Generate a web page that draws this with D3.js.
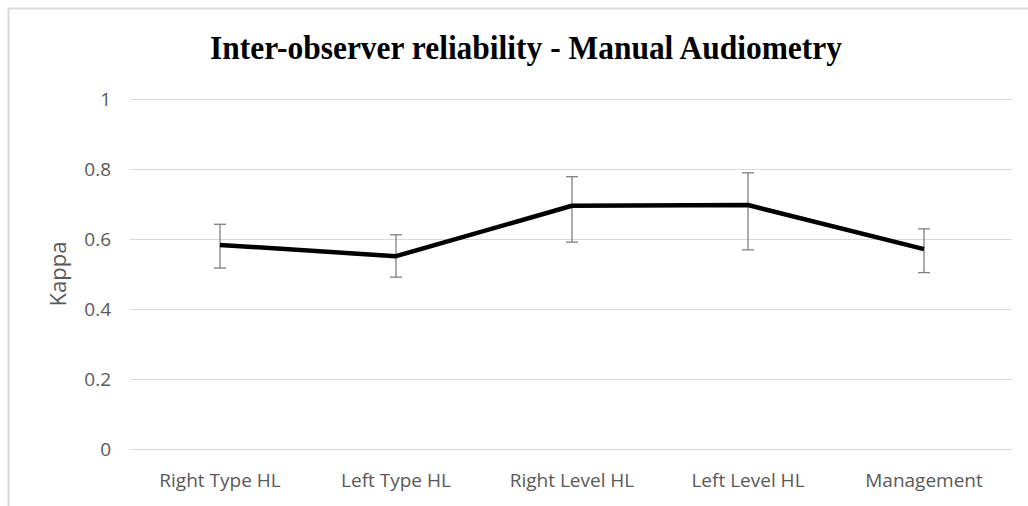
<!DOCTYPE html>
<html>
<head>
<meta charset="utf-8">
<script src="https://cdn.jsdelivr.net/npm/d3@7"></script>
<style>
  body { margin: 0; background: #fff; }
  svg { display: block; }
</style>
</head>
<body>
<svg id="chart"></svg>
<script>
// values
const categories = ["Right Type HL", "Left Type HL", "Right Level HL", "Left Level HL", "Management"];
const kappa = [0.583, 0.551, 0.695, 0.697, 0.571];
const upper = [0.642, 0.612, 0.778, 0.789, 0.629];
const lower = [0.517, 0.491, 0.591, 0.569, 0.504];
const yTicks = [0, 0.2, 0.4, 0.6, 0.8, 1];

const W = 1028, H = 506;
const svg = d3.select("#chart").attr("width", W).attr("height", H);

// chart frame (only top + left edges show in the picture)
svg.append("line").attr("x1", 8).attr("x2", W).attr("y1", 8.5).attr("y2", 8.5)
  .attr("stroke", "#d9d9d9").attr("stroke-width", 2);
svg.append("line").attr("x1", 8.5).attr("x2", 8.5).attr("y1", 8).attr("y2", H)
  .attr("stroke", "#d9d9d9").attr("stroke-width", 2);

const left = 132, right = 1012;
const x = d3.scaleBand().domain(categories).range([left, right]);
const y = d3.scaleLinear().domain([0, 1]).range([449, 99]);

// gridlines
svg.append("g").selectAll("line").data(yTicks).enter().append("line")
  .attr("x1", 130).attr("x2", right)
  .attr("y1", d => Math.round(y(d)) + 0.5).attr("y2", d => Math.round(y(d)) + 0.5)
  .attr("stroke", "#d9d9d9").attr("stroke-width", 1);

// y tick labels
svg.append("g").selectAll("text").data(yTicks).enter().append("text")
  .text(d => d3.format("")(d))
  .attr("x", 111).attr("y", d => y(d) + 7)
  .attr("text-anchor", "end")
  .style("font-family", "'Open Sans', sans-serif").style("font-size", "19px")
  .attr("fill", "#595959");

// x labels
svg.append("g").selectAll("text").data(categories).enter().append("text")
  .text(d => d)
  .attr("x", d => x(d) + x.bandwidth() / 2).attr("y", 487)
  .attr("text-anchor", "middle")
  .style("font-family", "'Open Sans', sans-serif").style("font-size", "19px")
  .attr("fill", "#595959");

// axis title
svg.append("text").text("Kappa")
  .attr("transform", "translate(66,274) rotate(-90)")
  .attr("text-anchor", "middle")
  .style("font-family", "'Open Sans', sans-serif").style("font-size", "22px")
  .attr("fill", "#595959");

// chart title
svg.append("text").text("Inter-observer reliability - Manual Audiometry")
  .attr("x", 526).attr("y", 59)
  .attr("text-anchor", "middle")
  .attr("textLength", 632).attr("lengthAdjust", "spacingAndGlyphs")
  .style("font-family", "'Liberation Serif', 'Times New Roman', serif")
  .style("font-size", "33px").style("font-weight", "bold")
  .attr("fill", "#000");

const pts = categories.map((c, i) => ({ c, v: kappa[i], hi: upper[i], lo: lower[i] }));
const cx = d => x(d.c) + x.bandwidth() / 2;

// error bars
const eb = svg.append("g").attr("stroke", "#7f7f7f").attr("stroke-width", 1.3);
eb.selectAll("line.v").data(pts).enter().append("line")
  .attr("x1", cx).attr("x2", cx).attr("y1", d => y(d.hi)).attr("y2", d => y(d.lo));
eb.selectAll("line.t").data(pts).enter().append("line")
  .attr("x1", d => cx(d) - 6).attr("x2", d => cx(d) + 6).attr("y1", d => y(d.hi)).attr("y2", d => y(d.hi));
eb.selectAll("line.b").data(pts).enter().append("line")
  .attr("x1", d => cx(d) - 6).attr("x2", d => cx(d) + 6).attr("y1", d => y(d.lo)).attr("y2", d => y(d.lo));

// kappa line
const line = d3.line().x(cx).y(d => y(d.v));
svg.append("path").datum(pts)
  .attr("d", line)
  .attr("fill", "none")
  .attr("stroke", "#000")
  .attr("stroke-width", 4.5)
  .attr("stroke-linejoin", "round");
</script>
</body>
</html>
